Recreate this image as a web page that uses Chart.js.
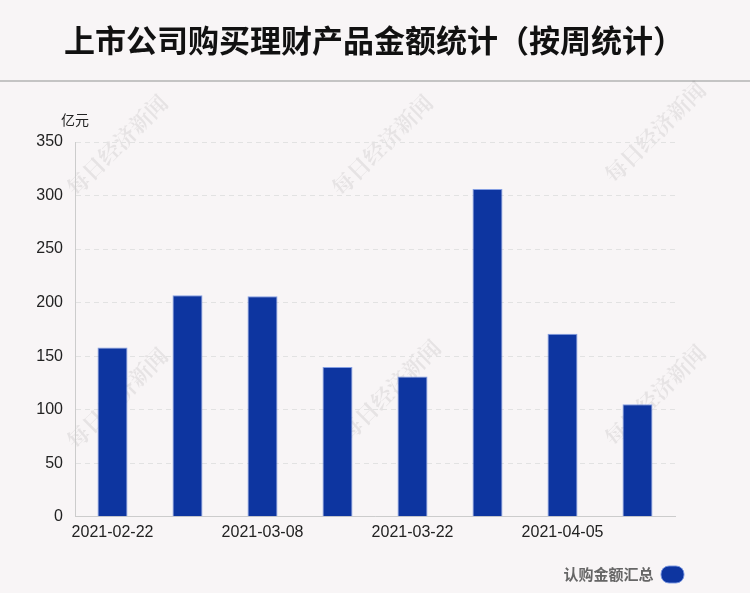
<!DOCTYPE html>
<html>
<head>
<meta charset="utf-8">
<script src="https://cdn.jsdelivr.net/npm/chart.js@4"></script>
<style>
  html, body { margin: 0; padding: 0; background: #f8f5f6; }
  #wrap { width: 750px; height: 593px; }
</style>
</head>
<body>
<div id="wrap"><canvas id="chart1" width="750" height="593"></canvas></div>
<script>
// weekly data
const weeks = ["2021-02-22","2021-03-01","2021-03-08","2021-03-15","2021-03-22","2021-03-29","2021-04-05","2021-04-12"];
const amounts = [158, 207, 206, 140, 131, 306, 171, 105];
const titleText = "上市公司购买理财产品金额统计（按周统计）";
const unitText = "亿元";
const seriesName = "认购金额汇总";

const sans = "'Liberation Sans', Arial, 'Noto Sans CJK SC', sans-serif";

// background, title, divider line, watermarks, unit label
const decor = {
  id: "decor",
  beforeDraw(chart) {
    const ctx = chart.ctx;
    ctx.save();
    ctx.fillStyle = "#f8f5f6";
    ctx.fillRect(0, 0, chart.width, chart.height);

    ctx.fillStyle = "#111";
    ctx.font = "bold 31px 'Noto Sans CJK SC', sans-serif";
    ctx.textAlign = "center";
    ctx.textBaseline = "middle";
    ctx.fillText(titleText, 374, 40);

    ctx.fillStyle = "#c4c4c4";
    ctx.fillRect(0, 80, chart.width, 2);

    // watermarks
    ctx.font = "bold 22px 'Noto Serif CJK SC', 'Noto Sans CJK SC', serif";
    ctx.fillStyle = "rgba(0,0,0,0.07)";
    const marks = [[117,145],[382,145],[655,132],[117,398],[390,390],[655,395]];
    marks.forEach(function(m) {
      ctx.save();
      ctx.translate(m[0], m[1]);
      ctx.rotate(-Math.PI / 4);
      ctx.fillText("每日经济新闻", 0, 0);
      ctx.restore();
    });

    const y = chart.scales.y;
    ctx.fillStyle = "#222";
    ctx.font = "14px 'Noto Sans CJK SC', sans-serif";
    ctx.textAlign = "left";
    ctx.fillText(unitText, 61, y.top - 22);
    ctx.restore();
  }
};

let myChart1 = document.getElementById("chart1").getContext('2d');

let chart1 = new Chart(myChart1, {
  type: "bar",
  data: {
    labels: weeks,
    datasets: [{
      label: seriesName,
      data: amounts,
      backgroundColor: "#0d35a0",
      borderColor: "rgba(120,150,225,0.9)",
      borderWidth: 1,
      barPercentage: 0.4,
      categoryPercentage: 1
    }]
  },
  options: {
    responsive: false,
    animation: false,
    layout: { padding: { top: 142, right: 48, left: 0, bottom: 0 } },
    scales: {
      x: {
        grid: { display: false, drawTicks: false },
        border: { color: "#cccccc", width: 1 },
        ticks: {
          autoSkip: false,
          maxRotation: 0,
          padding: 6,
          color: "#222",
          font: { size: 16, family: sans },
          callback: function(v, i) { return i % 2 === 0 ? weeks[i] : ""; }
        }
      },
      y: {
        min: 0,
        max: 350,
        afterFit: function(s) { s.width = 75; },
        grid: { color: "#e2e2e2", drawTicks: false },
        border: { color: "#cccccc", width: 1, dash: [5, 4] },
        ticks: {
          stepSize: 50,
          padding: 12,
          color: "#222",
          font: { size: 16, family: sans }
        }
      },
      // empty spacer on the right so the plot ends before the legend does
      yRight: {
        type: "linear",
        position: "right",
        afterFit: function(s) { s.width = 27; },
        grid: { display: false, drawTicks: false },
        border: { display: false },
        ticks: { display: false }
      }
    },
    plugins: {
      title: { display: false },
      tooltip: { enabled: false },
      legend: {
        display: true,
        position: "bottom",
        align: "start",
        rtl: true,
        labels: {
          boxWidth: 23,
          boxHeight: 17,
          useBorderRadius: true,
          borderRadius: 8,
          padding: 18,
          color: "#666",
          font: { size: 15, weight: "bold", family: "'Noto Sans CJK SC', sans-serif" }
        }
      }
    }
  },
  plugins: [decor]
});
</script>
</body>
</html>
